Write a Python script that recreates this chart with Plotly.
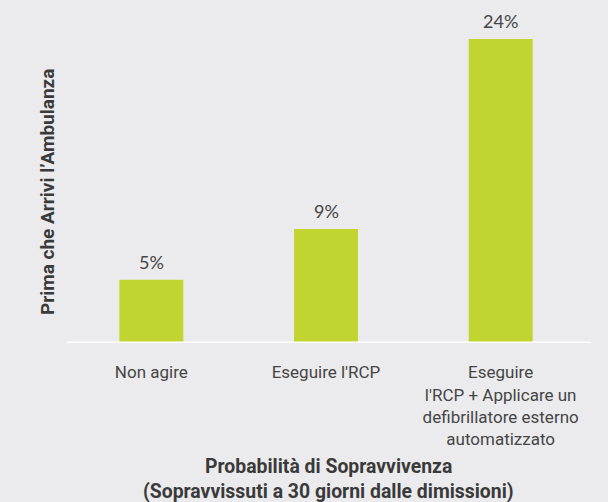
import plotly.graph_objects as go

categories = ["Non agire", "Eseguire l'RCP",
              "Eseguire<br>l'RCP + Applicare un<br>defibrillatore esterno<br>automatizzato"]
survival_pct = [5, 9, 24]
value_labels = ["5%", "9%", "24%"]
y_title = "Prima che Arrivi l’Ambulanza"
x_title_lines = ["Probabilità di Sopravvivenza", "(Sopravvissuti a 30 giorni dalle dimissioni)"]

BG = "#ebebed"
BAR = "#c0d530"
TXT = "#454545"
TITLE = "#3a3a3a"

L, R, T, B = 64, 20, 20, 159
PW, PH = 608 - L - R, 502 - T - B

fig = go.Figure()
fig.add_trace(go.Bar(
    x=list(range(len(categories))), y=survival_pct,
    width=0.366, marker=dict(color=BAR, line=dict(width=0)),
    hoverinfo="skip",
))

for i, (v, lab) in enumerate(zip(survival_pct, value_labels)):
    fig.add_annotation(x=i, y=v, xref="x", yref="y", text=lab, showarrow=False,
                       yanchor="bottom", yshift=5,
                       font=dict(family="Lato, Open Sans, sans-serif", size=18, color=TXT))

# baseline (white rule under the bars)
fig.add_shape(type="line", xref="paper", yref="y",
              x0=(67 - L) / PW, x1=(591 - L) / PW, y0=0, y1=0,
              line=dict(color="white", width=3), layer="above")

fig.add_annotation(x=(48 - L) / PW, y=(343 - 192) / PH, xref="paper", yref="paper",
                   text="<b>%s</b>" % y_title,
                   textangle=-90, showarrow=False, xanchor="center", yanchor="middle",
                   font=dict(family="Roboto, Liberation Sans, sans-serif", size=19, color=TITLE))

for py, line in zip([466, 491], x_title_lines):
    fig.add_annotation(x=(328 - L) / PW, y=(343 - py) / PH, xref="paper", yref="paper",
                       text="<b>%s</b>" % line, showarrow=False,
                       xanchor="center", yanchor="middle",
                       font=dict(family="Roboto, Liberation Sans, sans-serif", size=19.4, color=TITLE))

fig.update_layout(
    width=608, height=502,
    margin=dict(l=L, r=R, t=T, b=B),
    paper_bgcolor=BG, plot_bgcolor=BG,
    showlegend=False,
    xaxis=dict(
        range=[-0.5, 2.5], tickmode="array", tickvals=list(range(len(categories))),
        ticktext=categories, showgrid=False, zeroline=False, showline=False,
        ticks="outside", ticklen=14, tickcolor="rgba(0,0,0,0)",
        tickfont=dict(family="Roboto, Liberation Sans, sans-serif", size=17, color=TXT),
        fixedrange=True,
    ),
    yaxis=dict(range=[0, PH / 12.67], showgrid=False, zeroline=False, showticklabels=False,
               showline=False, fixedrange=True),
)

fig.write_html("out.html", config={"displayModeBar": False},
               post_script="document.body.style.margin='0';document.body.style.background='%s';" % BG)
